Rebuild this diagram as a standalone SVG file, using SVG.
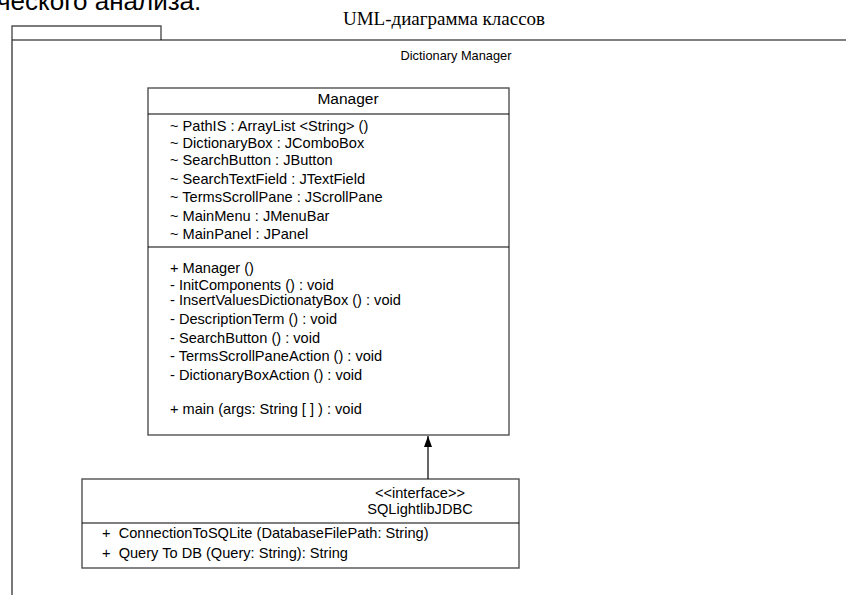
<svg xmlns="http://www.w3.org/2000/svg" width="846" height="595" viewBox="0 0 846 595">
<style>
.sans{font-family:"Liberation Sans",Arial,sans-serif;fill:#000}
.box{fill:#fff;stroke:#505050;stroke-width:1.4}
.sep{stroke:#000;stroke-width:1.2}
.t14{font-size:14.6px}
</style>
<defs>
<marker id="arr" markerWidth="12" markerHeight="10" refX="0" refY="0" orient="auto" markerUnits="userSpaceOnUse" viewBox="-12 -5 12 10">
<path d="M0,0 L-11,-4 L-11,4 Z" fill="#000"/>
</marker>
</defs>
<rect width="846" height="595" fill="#fff"/>
<text class="sans" x="-3" y="10" font-size="26">ческого анализа.</text>
<text x="444" y="25" font-family="'Liberation Serif','Times New Roman',serif" font-size="19" text-anchor="middle">UML-диаграмма классов</text>
<g id="package">
<path d="M12,40 V26 H161 V40" fill="none" stroke="#505050" stroke-width="1.4"/>
<line x1="12" y1="40" x2="846" y2="40" class="sep"/>
<line x1="12" y1="40" x2="12" y2="595" stroke="#404040" stroke-width="1.4"/>
<text class="sans" font-size="12.8" x="456" y="60" text-anchor="middle">Dictionary Manager</text>
</g>
<g id="manager">
<rect class="box" x="148" y="88" width="361" height="347"/>
<line class="sep" x1="148" y1="114" x2="509" y2="114"/>
<line class="sep" x1="148" y1="247" x2="509" y2="247"/>
<text class="sans" font-size="15.5" x="348" y="104" text-anchor="middle">Manager</text>
<g class="sans t14">
<text x="170" y="131">~ PathIS : ArrayList &lt;String&gt; ()</text>
<text x="170" y="148">~ DictionaryBox : JComboBox</text>
<text x="170" y="165">~ SearchButton : JButton</text>
<text x="170" y="184">~ SearchTextField : JTextField</text>
<text x="170" y="202">~ TermsScrollPane : JScrollPane</text>
<text x="170" y="221">~ MainMenu : JMenuBar</text>
<text x="170" y="239">~ MainPanel : JPanel</text>
<text x="170" y="273">+ Manager ()</text>
<text x="170" y="290">- InitComponents () : void</text>
<text x="170" y="305">- InsertValuesDictionatyBox () : void</text>
<text x="170" y="324">- DescriptionTerm () : void</text>
<text x="170" y="343">- SearchButton () : void</text>
<text x="170" y="361">- TermsScrollPaneAction () : void</text>
<text x="170" y="380">- DictionaryBoxAction () : void</text>
<text x="170" y="414">+ main (args: String [ ] ) : void</text>
</g>
</g>
<g id="sqlightlibjdbc">
<rect class="box" x="82" y="479" width="437" height="89"/>
<line class="sep" x1="82" y1="523" x2="519" y2="523"/>
<text class="sans t14" x="420" y="498" text-anchor="middle">&lt;&lt;interface&gt;&gt;</text>
<text class="sans t14" x="420" y="514" text-anchor="middle">SQLightlibJDBC</text>
<text class="sans t14" x="102" y="538" xml:space="preserve">+  ConnectionToSQLite (DatabaseFilePath: String)</text>
<text class="sans t14" x="102" y="558" xml:space="preserve">+  Query To DB (Query: String): String</text>
</g>
<g id="connectors">
<line x1="428" y1="479" x2="428" y2="436" stroke="#000" stroke-width="1.2" marker-end="url(#arr)"/>
</g>
</svg>
